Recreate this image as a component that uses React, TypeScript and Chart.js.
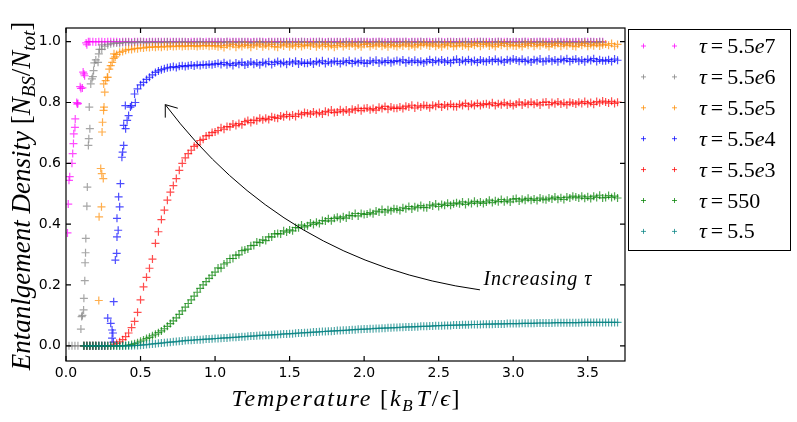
import { useEffect, useRef } from "react"
import { Chart, registerables } from "chart.js"

Chart.register(...registerables)

// temperature grid shared by all runs
const temps = [
  0.02, 0.04, 0.06, 0.08, 0.1, 0.12, 0.14, 0.16, 0.18, 0.2,
  0.22, 0.24, 0.26, 0.28, 0.3, 0.32, 0.34, 0.36, 0.38, 0.4,
  0.42, 0.44, 0.46, 0.48, 0.5, 0.52, 0.54, 0.56, 0.58, 0.6,
  0.62, 0.64, 0.66, 0.68, 0.7, 0.72, 0.74, 0.76, 0.78, 0.8,
  0.82, 0.84, 0.86, 0.88, 0.9, 0.92, 0.94, 0.96, 0.98, 1.0,
  1.02, 1.04, 1.06, 1.08, 1.1, 1.12, 1.14, 1.16, 1.18, 1.2,
  1.22, 1.24, 1.26, 1.28, 1.3, 1.32, 1.34, 1.36, 1.38, 1.4,
  1.42, 1.44, 1.46, 1.48, 1.5, 1.52, 1.54, 1.56, 1.58, 1.6,
  1.62, 1.64, 1.66, 1.68, 1.7, 1.72, 1.74, 1.76, 1.78, 1.8,
  1.82, 1.84, 1.86, 1.88, 1.9, 1.92, 1.94, 1.96, 1.98, 2.0,
  2.02, 2.04, 2.06, 2.08, 2.1, 2.12, 2.14, 2.16, 2.18, 2.2,
  2.22, 2.24, 2.26, 2.28, 2.3, 2.32, 2.34, 2.36, 2.38, 2.4,
  2.42, 2.44, 2.46, 2.48, 2.5, 2.52, 2.54, 2.56, 2.58, 2.6,
  2.62, 2.64, 2.66, 2.68, 2.7, 2.72, 2.74, 2.76, 2.78, 2.8,
  2.82, 2.84, 2.86, 2.88, 2.9, 2.92, 2.94, 2.96, 2.98, 3.0,
  3.02, 3.04, 3.06, 3.08, 3.1, 3.12, 3.14, 3.16, 3.18, 3.2,
  3.22, 3.24, 3.26, 3.28, 3.3, 3.32, 3.34, 3.36, 3.38, 3.4,
  3.42, 3.44, 3.46, 3.48, 3.5, 3.52, 3.54, 3.56, 3.58, 3.6,
  3.62, 3.64, 3.66, 3.68, 3.7,
]

const tau55e7: (number | null)[] = [
  0.544, 0.6, 0.718, 0.797, 0.846, 0.894, 0.99, 1, 1, 0.999,
  1, 1, 0.999, 1, 1, 1, 1, 0.999, 1, 1,
  1, 0.999, 1, 1, 1, 1, 0.999, 1, 1, 1,
  1, 1, 1, 0.999, 1, 1, 1, 1, 0.999, 1,
  0.999, 1, 1, 1, 1, 0.999, 1, 1, 1, 1,
  1, 1, 0.999, 1, 1, 1, 1, 1, 0.999, 1,
  1, 0.999, 1, 1, 1, 1, 0.999, 1, 1, 1,
  1, 1, 1, 0.999, 1, 1, 1, 0.999, 1, 1,
  0.999, 1, 1, 1, 1, 1, 0.999, 1, 1, 1,
  1, 1, 0.999, 1, 1, 0.999, 1, 1, 1, 1,
  1, 0.999, 1, 1, 1, 1, 1, 0.999, 1, 1,
  1, 1, 1, 1, 0.999, 1, 1, 1, 1, 0.999,
  1, 1, 0.999, 1, 1, 1, 0.999, 1, 1, 1,
  0.999, 1, 1, 1, 1, 0.999, 1, 1, 1, 1,
  1, 1, 0.999, 1, 1, 1, 1, 1, 0.999, 1,
  1, 0.999, 1, 1, 1, 0.999, 1, 1, 1, 1,
  1, 1, 1, 0.999, 1, 1, 1, 1, 0.999, 1,
  1, 1, 0.999, 1, 1, 1, 1, 0.999, 1, 1,
  null, null, null, null, null,
]
const tau55e7Extra: [number, number][] = [
  [0.01, 0.371], [0.015, 0.466], [0.025, 0.556], [0.045, 0.632], [0.05, 0.665],
  [0.052, 0.697], [0.062, 0.746], [0.072, 0.8], [0.076, 0.795], [0.095, 0.852],
  [0.11, 0.848], [0.115, 0.9], [0.125, 0.888], [0.135, 0.996], [0.15, 1],
]

const tau55e6: (number | null)[] = [
  0, 0, 0, 0, 0.055, 0.156, 0.459, 0.714, 0.885, 0.94,
  0.96, 0.975, 0.985, 0.99, 0.993, 0.995, 0.996, 0.994, 0.997, 0.998,
  0.998, 0.996, 0.999, 0.997, 1, 0.998, 0.996, 0.999, 0.998, 0.997,
  0.999, 0.997, 0.998, 1, 0.996, 0.999, 0.998, 0.997, 1, 0.998,
  0.998, 0.996, 0.999, 0.997, 1, 0.998, 0.996, 0.999, 0.998, 0.997,
  0.999, 0.997, 0.998, 1, 0.996, 0.999, 0.998, 0.997, 1, 0.998,
  0.998, 0.996, 0.999, 0.997, 1, 0.998, 0.996, 0.999, 0.998, 0.997,
  0.999, 0.997, 0.998, 1, 0.996, 0.999, 0.998, 0.997, 1, 0.998,
  0.998, 0.996, 0.999, 0.997, 1, 0.998, 0.996, 0.999, 0.998, 0.997,
  0.999, 0.997, 0.998, 1, 0.996, 0.999, 0.998, 0.997, 1, 0.998,
  0.998, 0.996, 0.999, 0.997, 1, 0.998, 0.996, 0.999, 0.998, 0.997,
  0.999, 0.997, 0.998, 1, 0.996, 0.999, 0.998, 0.997, 1, 0.998,
  0.998, 0.996, 0.999, 0.997, 1, 0.998, 0.996, 0.999, 0.998, 0.997,
  0.999, 0.997, 0.998, 1, 0.996, 0.999, 0.998, 0.997, 1, 0.998,
  0.998, 0.996, 0.999, 0.997, 1, 0.998, 0.996, 0.999, 0.998, 0.997,
  0.999, 0.997, 0.998, 1, 0.996, 0.999, 0.998, 0.997, 1, 0.998,
  0.998, 0.996, 0.999, 0.997, 1, 0.998, 0.996, 0.999, 0.998, 0.997,
  0.999, 0.997, 0.998, 1, 0.996, 0.999, 0.998, 0.997, 1, 0.998,
  null, null, null, null, null,
]
const tau55e6Extra: [number, number][] = [
  [0.105, 0.096], [0.11, 0.1], [0.118, 0.118], [0.126, 0.214], [0.128, 0.273],
  [0.131, 0.306], [0.133, 0.353], [0.143, 0.522], [0.15, 0.659], [0.153, 0.681],
  [0.156, 0.785], [0.166, 0.861], [0.174, 0.878], [0.185, 0.905], [0.19, 0.93],
  [0.215, 0.932], [0.225, 0.975], [0.24, 0.99],
]

const tau55e5: (number | null)[] = [
  null, null, null, null, null, 0, 0, 0, 0, 0,
  0.149, 0.566, 0.834, 0.883, 0.921, 0.945, 0.958, 0.965, 0.968, 0.972,
  0.975, 0.974, 0.978, 0.977, 0.98, 0.979, 0.982, 0.981, 0.983, 0.982,
  0.984, 0.982, 0.985, 0.983, 0.986, 0.984, 0.985, 0.987, 0.984, 0.986,
  0.985, 0.987, 0.986, 0.984, 0.987, 0.986, 0.988, 0.985, 0.987, 0.986,
  0.983, 0.987, 0.981, 0.989, 0.985, 0.991, 0.982, 0.988, 0.984, 0.99,
  0.988, 0.982, 0.99, 0.986, 0.992, 0.983, 0.989, 0.985, 0.991, 0.984,
  0.982, 0.99, 0.986, 0.992, 0.983, 0.989, 0.985, 0.991, 0.984, 0.988,
  0.99, 0.986, 0.992, 0.983, 0.989, 0.985, 0.991, 0.984, 0.988, 0.982,
  0.987, 0.993, 0.984, 0.99, 0.986, 0.992, 0.985, 0.989, 0.983, 0.991,
  0.993, 0.984, 0.99, 0.986, 0.992, 0.985, 0.989, 0.983, 0.991, 0.987,
  0.984, 0.99, 0.986, 0.992, 0.985, 0.989, 0.983, 0.991, 0.987, 0.993,
  0.99, 0.986, 0.992, 0.985, 0.989, 0.983, 0.991, 0.987, 0.993, 0.984,
  0.987, 0.993, 0.986, 0.99, 0.984, 0.992, 0.988, 0.994, 0.985, 0.991,
  0.993, 0.986, 0.99, 0.984, 0.992, 0.988, 0.994, 0.985, 0.991, 0.987,
  0.986, 0.99, 0.984, 0.992, 0.988, 0.994, 0.985, 0.991, 0.987, 0.993,
  0.99, 0.984, 0.992, 0.988, 0.994, 0.985, 0.991, 0.987, 0.993, 0.986,
  0.984, 0.992, 0.988, 0.994, 0.985, 0.991, 0.987, 0.993, 0.986, 0.99,
  0.992, 0.988, 0.994, 0.985, 0.991,
]
const tau55e5Extra: [number, number][] = [
  [0.222, 0.424], [0.233, 0.583], [0.238, 0.457], [0.242, 0.703], [0.245, 0.735],
  [0.25, 0.55], [0.252, 0.774], [0.255, 0.785], [0.253, 0.861], [0.266, 0.872],
  [0.277, 0.883], [0.29, 0.91], [0.31, 0.932], [0.322, 0.96], [0.33, 0.95],
]

const tau55e4: (number | null)[] = [
  null, null, null, null, null, 0, 0, 0, 0, 0,
  0, 0, 0, 0.091, 0.074, 0.145, 0.304, 0.457, 0.637, 0.714,
  0.757, 0.79, 0.828, 0.845, 0.858, 0.866, 0.876, 0.883, 0.891, 0.899,
  0.904, 0.908, 0.911, 0.914, 0.916, 0.918, 0.915, 0.919, 0.921, 0.918,
  0.921, 0.923, 0.92, 0.924, 0.922, 0.925, 0.923, 0.926, 0.924, 0.927,
  0.929, 0.925, 0.931, 0.924, 0.928, 0.922, 0.93, 0.926, 0.932, 0.923,
  0.927, 0.933, 0.926, 0.93, 0.924, 0.932, 0.928, 0.934, 0.925, 0.931,
  0.935, 0.928, 0.932, 0.926, 0.934, 0.93, 0.936, 0.927, 0.933, 0.929,
  0.929, 0.933, 0.927, 0.935, 0.931, 0.937, 0.928, 0.934, 0.93, 0.936,
  0.934, 0.928, 0.936, 0.932, 0.938, 0.929, 0.935, 0.931, 0.937, 0.93,
  0.929, 0.937, 0.933, 0.939, 0.93, 0.936, 0.932, 0.938, 0.931, 0.935,
  0.938, 0.934, 0.94, 0.931, 0.937, 0.933, 0.939, 0.932, 0.936, 0.93,
  0.935, 0.941, 0.932, 0.938, 0.934, 0.94, 0.933, 0.937, 0.931, 0.939,
  0.942, 0.933, 0.939, 0.935, 0.941, 0.934, 0.938, 0.932, 0.94, 0.936,
  0.934, 0.94, 0.936, 0.942, 0.935, 0.939, 0.933, 0.941, 0.937, 0.943,
  0.94, 0.936, 0.942, 0.935, 0.939, 0.933, 0.941, 0.937, 0.943, 0.934,
  0.937, 0.943, 0.936, 0.94, 0.934, 0.942, 0.938, 0.944, 0.935, 0.941,
  0.943, 0.936, 0.94, 0.934, 0.942, 0.938, 0.944, 0.935, 0.941, 0.937,
  0.937, 0.941, 0.935, 0.943, 0.939,
]
const tau55e4Extra: [number, number][] = [
  [0.309, 0.052], [0.315, 0.042], [0.309, 0.025], [0.318, 0.012], [0.331, 0.282],
  [0.342, 0.358], [0.35, 0.38], [0.342, 0.419], [0.353, 0.49], [0.365, 0.533],
  [0.375, 0.62], [0.387, 0.659], [0.387, 0.725], [0.398, 0.79], [0.41, 0.741],
  [0.432, 0.785], [0.465, 0.8],
]

const tau55e3: (number | null)[] = [
  null, null, null, null, null, 0, 0, 0, 0, 0,
  0, 0, 0, 0, 0, 0.003, 0.008, 0.013, 0.02, 0.03,
  0.042, 0.06, 0.08, 0.11, 0.151, 0.194, 0.225, 0.255, 0.285, 0.337,
  0.375, 0.415, 0.446, 0.479, 0.505, 0.527, 0.55, 0.577, 0.6, 0.618,
  0.632, 0.643, 0.656, 0.661, 0.675, 0.679, 0.69, 0.692, 0.701, 0.703,
  0.708, 0.717, 0.712, 0.721, 0.72, 0.729, 0.724, 0.731, 0.727, 0.737,
  0.741, 0.734, 0.742, 0.74, 0.748, 0.743, 0.748, 0.744, 0.753, 0.75,
  0.748, 0.756, 0.753, 0.76, 0.754, 0.759, 0.754, 0.763, 0.76, 0.767,
  0.765, 0.762, 0.769, 0.763, 0.767, 0.762, 0.771, 0.768, 0.775, 0.767,
  0.769, 0.776, 0.77, 0.775, 0.769, 0.778, 0.775, 0.781, 0.773, 0.78,
  0.782, 0.776, 0.78, 0.775, 0.784, 0.78, 0.787, 0.778, 0.785, 0.781,
  0.781, 0.785, 0.78, 0.788, 0.785, 0.791, 0.782, 0.789, 0.785, 0.791,
  0.789, 0.783, 0.791, 0.788, 0.794, 0.785, 0.792, 0.788, 0.794, 0.787,
  0.786, 0.794, 0.79, 0.797, 0.788, 0.794, 0.79, 0.797, 0.79, 0.794,
  0.796, 0.793, 0.799, 0.79, 0.796, 0.793, 0.799, 0.792, 0.796, 0.79,
  0.795, 0.801, 0.792, 0.798, 0.794, 0.801, 0.794, 0.798, 0.792, 0.8,
  0.802, 0.793, 0.8, 0.796, 0.802, 0.795, 0.799, 0.793, 0.801, 0.798,
  0.795, 0.801, 0.797, 0.803, 0.796, 0.8, 0.794, 0.803, 0.799, 0.805,
  0.802, 0.798, 0.804, 0.797, 0.801,
]

const tau550: (number | null)[] = [
  null, null, null, null, null, 0, 0, 0, 0, 0,
  0, 0, 0, 0, 0, 0, 0, 0, 0, 0.001,
  0.002, 0.004, 0.007, 0.01, 0.015, 0.019, 0.024, 0.028, 0.033, 0.038,
  0.043, 0.049, 0.056, 0.064, 0.073, 0.082, 0.092, 0.103, 0.115, 0.127,
  0.139, 0.151, 0.163, 0.176, 0.189, 0.2, 0.211, 0.222, 0.232, 0.242,
  0.256, 0.255, 0.269, 0.273, 0.287, 0.287, 0.298, 0.299, 0.313, 0.315,
  0.318, 0.329, 0.33, 0.341, 0.339, 0.348, 0.346, 0.358, 0.358, 0.368,
  0.369, 0.368, 0.378, 0.374, 0.381, 0.378, 0.389, 0.388, 0.397, 0.391,
  0.395, 0.404, 0.399, 0.406, 0.402, 0.412, 0.41, 0.418, 0.411, 0.419,
  0.423, 0.418, 0.424, 0.42, 0.429, 0.427, 0.435, 0.427, 0.435, 0.432,
  0.433, 0.438, 0.434, 0.443, 0.44, 0.448, 0.44, 0.447, 0.444, 0.451,
  0.449, 0.445, 0.454, 0.451, 0.458, 0.45, 0.457, 0.454, 0.461, 0.455,
  0.454, 0.463, 0.46, 0.466, 0.458, 0.465, 0.462, 0.469, 0.462, 0.467,
  0.47, 0.467, 0.473, 0.465, 0.472, 0.468, 0.475, 0.469, 0.473, 0.468,
  0.473, 0.479, 0.471, 0.477, 0.474, 0.481, 0.474, 0.479, 0.473, 0.482,
  0.484, 0.476, 0.482, 0.479, 0.485, 0.479, 0.483, 0.478, 0.486, 0.482,
  0.48, 0.486, 0.483, 0.489, 0.482, 0.487, 0.481, 0.489, 0.486, 0.492,
  0.489, 0.486, 0.492, 0.485, 0.49, 0.484, 0.492, 0.488, 0.495, 0.486,
  0.488, 0.494, 0.488, 0.492, 0.486,
]

const tau5_5: (number | null)[] = [
  null, null, null, null, null, 0, 0, 0, 0, 0,
  0, 0, 0, 0, 0, 0, 0, 0, 0, 0,
  0, 0, 0.001, 0.001, 0.002, 0.003, 0.004, 0.005, 0.006, 0.007,
  0.008, 0.009, 0.01, 0.011, 0.012, 0.013, 0.014, 0.015, 0.016, 0.017,
  0.018, 0.018, 0.019, 0.02, 0.02, 0.021, 0.022, 0.022, 0.023, 0.024,
  0.024, 0.025, 0.026, 0.026, 0.027, 0.028, 0.028, 0.029, 0.03, 0.03,
  0.031, 0.032, 0.032, 0.033, 0.034, 0.034, 0.035, 0.035, 0.036, 0.037,
  0.037, 0.038, 0.039, 0.039, 0.04, 0.04, 0.041, 0.042, 0.042, 0.043,
  0.043, 0.044, 0.045, 0.045, 0.046, 0.047, 0.047, 0.048, 0.048, 0.049,
  0.05, 0.05, 0.051, 0.051, 0.052, 0.053, 0.053, 0.054, 0.054, 0.055,
  0.055, 0.056, 0.056, 0.057, 0.057, 0.058, 0.058, 0.059, 0.059, 0.06,
  0.06, 0.061, 0.061, 0.062, 0.062, 0.062, 0.063, 0.063, 0.064, 0.064,
  0.064, 0.065, 0.065, 0.066, 0.066, 0.066, 0.067, 0.067, 0.067, 0.068,
  0.068, 0.068, 0.069, 0.069, 0.069, 0.07, 0.07, 0.07, 0.07, 0.071,
  0.071, 0.071, 0.071, 0.072, 0.072, 0.072, 0.072, 0.073, 0.073, 0.073,
  0.073, 0.073, 0.074, 0.074, 0.074, 0.074, 0.074, 0.075, 0.075, 0.075,
  0.075, 0.075, 0.075, 0.076, 0.076, 0.076, 0.076, 0.076, 0.076, 0.076,
  0.076, 0.076, 0.077, 0.077, 0.077, 0.077, 0.077, 0.077, 0.077, 0.077,
  0.077, 0.077, 0.077, 0.077, 0.077,
]

const tauLabels = ["5.5e7", "5.5e6", "5.5e5", "5.5e4", "5.5e3", "550", "5.5"]
const seriesColors = ["255,0,255", "128,128,128", "255,140,0", "0,0,255", "255,0,0", "0,128,0", "0,128,128"]
const seriesValues = [tau55e7, tau55e6, tau55e5, tau55e4, tau55e3, tau550, tau5_5]
const seriesExtra: [number, number][][] = [tau55e7Extra, tau55e6Extra, tau55e5Extra, tau55e4Extra, [], [], []]

const xTicks = [0, 0.5, 1, 1.5, 2, 2.5, 3, 3.5]
const yTicks = [0, 0.2, 0.4, 0.6, 0.8, 1.0]

const SERIF = '"Liberation Serif", "DejaVu Serif", serif'

type Run = { t: string; it?: boolean; sub?: boolean; sp?: number }

function drawRuns(
  ctx: CanvasRenderingContext2D,
  runs: Run[],
  x: number,
  y: number,
  size: number,
  align: "left" | "center",
  ls = 0
) {
  const fontFor = (r: Run) => `${r.it ? "italic " : ""}${r.sub ? Math.round(size * 0.7) : size}px ${SERIF}`
  ;(ctx as any).letterSpacing = `${ls}px`
  let width = 0
  for (const r of runs) {
    ctx.font = fontFor(r)
    width += ctx.measureText(r.t).width + (r.sp || 0)
  }
  let cx = align === "center" ? x - width / 2 : x
  ctx.textAlign = "left"
  ctx.textBaseline = "alphabetic"
  for (const r of runs) {
    ctx.font = fontFor(r)
    ctx.fillText(r.t, cx, r.sub ? y + size * 0.22 : y)
    cx += ctx.measureText(r.t).width + (r.sp || 0)
  }
  ;(ctx as any).letterSpacing = "0px"
}

function tauRuns(label: string): Run[] {
  const runs: Run[] = [{ t: "τ", it: true, sp: 4 }, { t: "=", sp: 4 }]
  const parts = label.split("e")
  runs.push({ t: parts[0] })
  if (parts.length > 1) {
    runs.push({ t: "e", it: true })
    runs.push({ t: parts[1] })
  }
  return runs
}

function toPoints(values: (number | null)[], extra: [number, number][]) {
  const pts: { x: number; y: number }[] = []
  values.forEach((v, i) => {
    if (v !== null) pts.push({ x: temps[i], y: v })
  })
  extra.forEach(([x, y]) => pts.push({ x, y }))
  return pts
}

// spines and inward ticks on all four sides
const framePlugin = {
  id: "frame",
  afterDatasetsDraw(chart: any) {
    const { ctx, chartArea: a, scales } = chart
    ctx.save()
    ctx.strokeStyle = "#000"
    ctx.lineWidth = 1.2
    ctx.strokeRect(a.left, a.top, a.right - a.left, a.bottom - a.top)
    ctx.beginPath()
    for (const v of xTicks) {
      const px = scales.x.getPixelForValue(v)
      ctx.moveTo(px, a.bottom)
      ctx.lineTo(px, a.bottom - 5)
      ctx.moveTo(px, a.top)
      ctx.lineTo(px, a.top + 5)
    }
    for (const v of yTicks) {
      const py = scales.y.getPixelForValue(v)
      ctx.moveTo(a.left, py)
      ctx.lineTo(a.left + 5, py)
      ctx.moveTo(a.right, py)
      ctx.lineTo(a.right - 5, py)
    }
    ctx.stroke()
    ctx.restore()
  },
}

// curved "Increasing tau" arrow
const arrowPlugin = {
  id: "arrow",
  afterDatasetsDraw(chart: any) {
    const { ctx, scales } = chart
    const p = (x: number, y: number) => [scales.x.getPixelForValue(x), scales.y.getPixelForValue(y)]
    const [x0, y0] = p(2.777, 0.184)
    const [cx, cy] = p(1.463, 0.274)
    const [x1, y1] = p(0.666, 0.793)
    ctx.save()
    ctx.strokeStyle = "#000"
    ctx.lineWidth = 1
    ctx.beginPath()
    ctx.moveTo(x0, y0)
    ctx.quadraticCurveTo(cx, cy, x1, y1)
    const len = Math.hypot(x1 - cx, y1 - cy)
    const ux = (cx - x1) / len
    const uy = (cy - y1) / len
    const ang = (37 * Math.PI) / 180
    for (const s of [1, -1]) {
      const rx = ux * Math.cos(s * ang) - uy * Math.sin(s * ang)
      const ry = ux * Math.sin(s * ang) + uy * Math.cos(s * ang)
      ctx.moveTo(x1, y1)
      ctx.lineTo(x1 + rx * 13, y1 + ry * 13)
    }
    ctx.stroke()
    ctx.fillStyle = "#000"
    const [tx, ty] = p(2.8, 0.2)
    drawRuns(ctx, [{ t: "Increasing", it: true }, { t: " " }, { t: "τ", it: true }], tx, ty, 20, "left", 1)
    ctx.restore()
  },
}

// legend box outside the axes, two markers per entry
const legendPlugin = {
  id: "boxLegend",
  afterDraw(chart: any) {
    const { ctx } = chart
    ctx.save()
    ctx.fillStyle = "#fff"
    ctx.fillRect(628.5, 29.5, 162, 221)
    ctx.strokeStyle = "#000"
    ctx.lineWidth = 1
    ctx.strokeRect(628.5, 29.5, 162, 221)
    tauLabels.forEach((label, i) => {
      const y = 46 + i * 30.9
      ctx.strokeStyle = `rgba(${seriesColors[i]},0.75)`
      ctx.beginPath()
      for (const mx of [643.5, 674.5]) {
        ctx.moveTo(mx - 2.5, y)
        ctx.lineTo(mx + 2.5, y)
        ctx.moveTo(mx, y - 2.5)
        ctx.lineTo(mx, y + 2.5)
      }
      ctx.stroke()
      ctx.fillStyle = "#000"
      drawRuns(ctx, tauRuns(label), 699, y + 7, 22, "left")
    })
    ctx.restore()
  },
}

const axisTitlePlugin = {
  id: "axisTitles",
  afterDraw(chart: any) {
    const { ctx, chartArea: a } = chart
    ctx.save()
    ctx.fillStyle = "#000"
    drawRuns(
      ctx,
      [
        { t: "Temperature", it: true },
        { t: " [" },
        { t: "k", it: true },
        { t: "B", it: true, sub: true, sp: 2 },
        { t: "T", it: true },
        { t: "/" },
        { t: "ϵ", it: true },
        { t: "]" },
      ],
      (a.left + a.right) / 2 + 1,
      406,
      24,
      "center",
      1.8
    )
    ctx.translate(29.5, (a.top + a.bottom) / 2 + 1.5)
    ctx.rotate(-Math.PI / 2)
    drawRuns(
      ctx,
      [
        { t: "Entanlgement Density", it: true },
        { t: " [" },
        { t: "N", it: true },
        { t: "BS", it: true, sub: true },
        { t: "/" },
        { t: "N", it: true },
        { t: "tot", it: true, sub: true },
        { t: "]" },
      ],
      0,
      0,
      27,
      "center"
    )
    ctx.restore()
  },
}

export default function App() {
  const canvasRef = useRef<HTMLCanvasElement>(null)
  const chartRef = useRef<Chart | null>(null)

  useEffect(() => {
    if (!canvasRef.current) return
    if (chartRef.current) chartRef.current.destroy()

    const tickFont = { family: '"DejaVu Sans", sans-serif', size: 14 }

    chartRef.current = new Chart(canvasRef.current, {
      type: "scatter",
      data: {
        datasets: tauLabels.map((label, i) => ({
          label: `τ=${label}`,
          data: toPoints(seriesValues[i], seriesExtra[i]),
          pointStyle: "cross",
          pointRadius: 4,
          pointBorderWidth: 1.2,
          borderColor: `rgba(${seriesColors[i]},0.7)`,
          backgroundColor: `rgba(${seriesColors[i]},0.7)`,
          showLine: false,
          order: tauLabels.length - 1 - i,
        })),
      },
      options: {
        responsive: true,
        maintainAspectRatio: false,
        animation: false,
        events: [],
        layout: { padding: { top: 28, right: 172, left: 0, bottom: 0 } },
        plugins: {
          legend: { display: false },
          tooltip: { enabled: false },
        },
        scales: {
          x: {
            type: "linear",
            min: 0,
            max: 3.75,
            afterBuildTicks: (scale: any) => {
              scale.ticks = xTicks.map((v) => ({ value: v }))
            },
            afterFit: (scale: any) => {
              scale.height = 61
            },
            grid: { display: false, drawTicks: false },
            border: { display: false },
            ticks: {
              color: "#000",
              font: tickFont,
              padding: 4,
              maxRotation: 0,
              autoSkip: false,
              callback: (v: any) => Number(v).toFixed(1),
            },
          },
          y: {
            type: "linear",
            min: -0.05,
            max: 1.045,
            afterBuildTicks: (scale: any) => {
              scale.ticks = yTicks.map((v) => ({ value: v }))
            },
            afterFit: (scale: any) => {
              scale.width = 66
            },
            grid: { display: false, drawTicks: false },
            border: { display: false },
            ticks: {
              color: "#000",
              font: tickFont,
              padding: 5,
              autoSkip: false,
              callback: (v: any) => Number(v).toFixed(1),
            },
          },
        },
      },
      plugins: [framePlugin, arrowPlugin, legendPlugin, axisTitlePlugin],
    })

    return () => {
      if (chartRef.current) {
        chartRef.current.destroy()
        chartRef.current = null
      }
    }
  }, [])

  return (
    <div style={{ position: "fixed", left: 0, top: 0, width: 797, height: 422, background: "#fff" }}>
      <canvas ref={canvasRef} />
    </div>
  )
}
